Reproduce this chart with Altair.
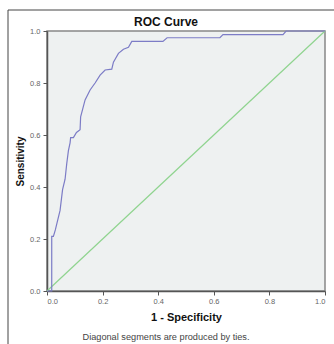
import altair as alt
import pandas as pd

# ROC curve points
fpr = [0.0, 0.017, 0.017, 0.023, 0.030, 0.047, 0.056, 0.065, 0.071, 0.077, 0.083,
       0.085, 0.095, 0.106, 0.119, 0.121, 0.137, 0.155, 0.173, 0.191, 0.209, 0.233,
       0.239, 0.257, 0.275, 0.293, 0.305, 0.417, 0.432, 0.622, 0.633, 0.849, 0.860, 1.0]
tpr = [0.0, 0.0, 0.21, 0.21, 0.235, 0.31, 0.39, 0.43, 0.49, 0.54, 0.57,
       0.59, 0.59, 0.61, 0.62, 0.67, 0.735, 0.773, 0.80, 0.83, 0.85, 0.853,
       0.88, 0.914, 0.93, 0.937, 0.96, 0.96, 0.974, 0.974, 0.986, 0.986, 1.0, 1.0]
diag_x = [0.0, 1.0]
diag_y = [0.0, 1.0]
ticks = [0.0, 0.2, 0.4, 0.6, 0.8, 1.0]
chart_title = "ROC Curve"
footnote_text = "Diagonal segments are produced by ties."

roc = pd.DataFrame({"fpr": fpr, "tpr": tpr, "order": list(range(len(fpr)))})
diag = pd.DataFrame({"fpr": diag_x, "tpr": diag_y})
one = pd.DataFrame({"a": [0]})

FONT = "Liberation Sans"
W, H = 278, 260
PL, PT = 47, 31

xs = alt.Scale(domain=[0, 1], nice=False, zero=False)
ys = alt.Scale(domain=[0, 1], nice=False, zero=False)

x_axis = alt.Axis(values=ticks, format=".1f", labelFontSize=7.5, labelColor="#666",
                  labelFont=FONT, tickSize=4, tickColor="#555", domainColor="#555",
                  domainWidth=1.5, labelPadding=2, grid=False, titleFont=FONT,
                  titleFontSize=11, titleFontWeight="bold", titleColor="#111",
                  titlePadding=7)
y_axis = alt.Axis(values=ticks, format=".1f", labelFontSize=7.5, labelColor="#666",
                  labelFont=FONT, tickSize=4, tickColor="#555", domainColor="#555",
                  domainWidth=1.5, labelPadding=3, grid=False, titleFont=FONT,
                  titleFontSize=10, titleFontWeight="bold", titleColor="#111",
                  titlePadding=4)

roc_line = alt.Chart(roc).mark_line(color="#7c7cc6", strokeWidth=1.2).encode(
    x=alt.X("fpr:Q", scale=xs, axis=x_axis, title="1 - Specificity"),
    y=alt.Y("tpr:Q", scale=ys, axis=y_axis, title="Sensitivity"),
    order="order:Q",
)
diag_line = alt.Chart(diag).mark_line(color="#8fd48f", strokeWidth=1.2).encode(
    x=alt.X("fpr:Q", scale=xs), y=alt.Y("tpr:Q", scale=ys)
)
frame_left = alt.Chart(one).mark_rule(color="#444", strokeWidth=1).encode(
    x=alt.value(8 - PL), y=alt.value(10 - PT), y2=alt.value(344 - PT)
)
frame_top = alt.Chart(one).mark_rule(color="#444", strokeWidth=1).encode(
    x=alt.value(8 - PL), x2=alt.value(334 - PL), y=alt.value(10 - PT)
)
title_mark = alt.Chart(one).mark_text(font=FONT, fontSize=12, fontWeight="bold",
                                      color="#111", baseline="middle").encode(
    x=alt.value(166 - PL), y=alt.value(22 - PT), text=alt.value(chart_title),
)
footnote = alt.Chart(one).mark_text(font=FONT, fontSize=9.2, color="#444",
                                    baseline="middle").encode(
    x=alt.value(166 - PL), y=alt.value(337 - PT), text=alt.value(footnote_text),
)

chart = alt.layer(frame_left, frame_top, diag_line, roc_line, title_mark,
                  footnote).properties(
    width=W, height=H,
    autosize=alt.AutoSizeParams(type="none"),
    padding={"left": PL, "top": PT, "right": 334 - PL - W, "bottom": 344 - PT - H},
    background="white",
).configure_view(fill="#eef1f1", stroke="#888", strokeWidth=1.5)

chart.save("out.html", embed_options={"renderer": "svg", "actions": False})
